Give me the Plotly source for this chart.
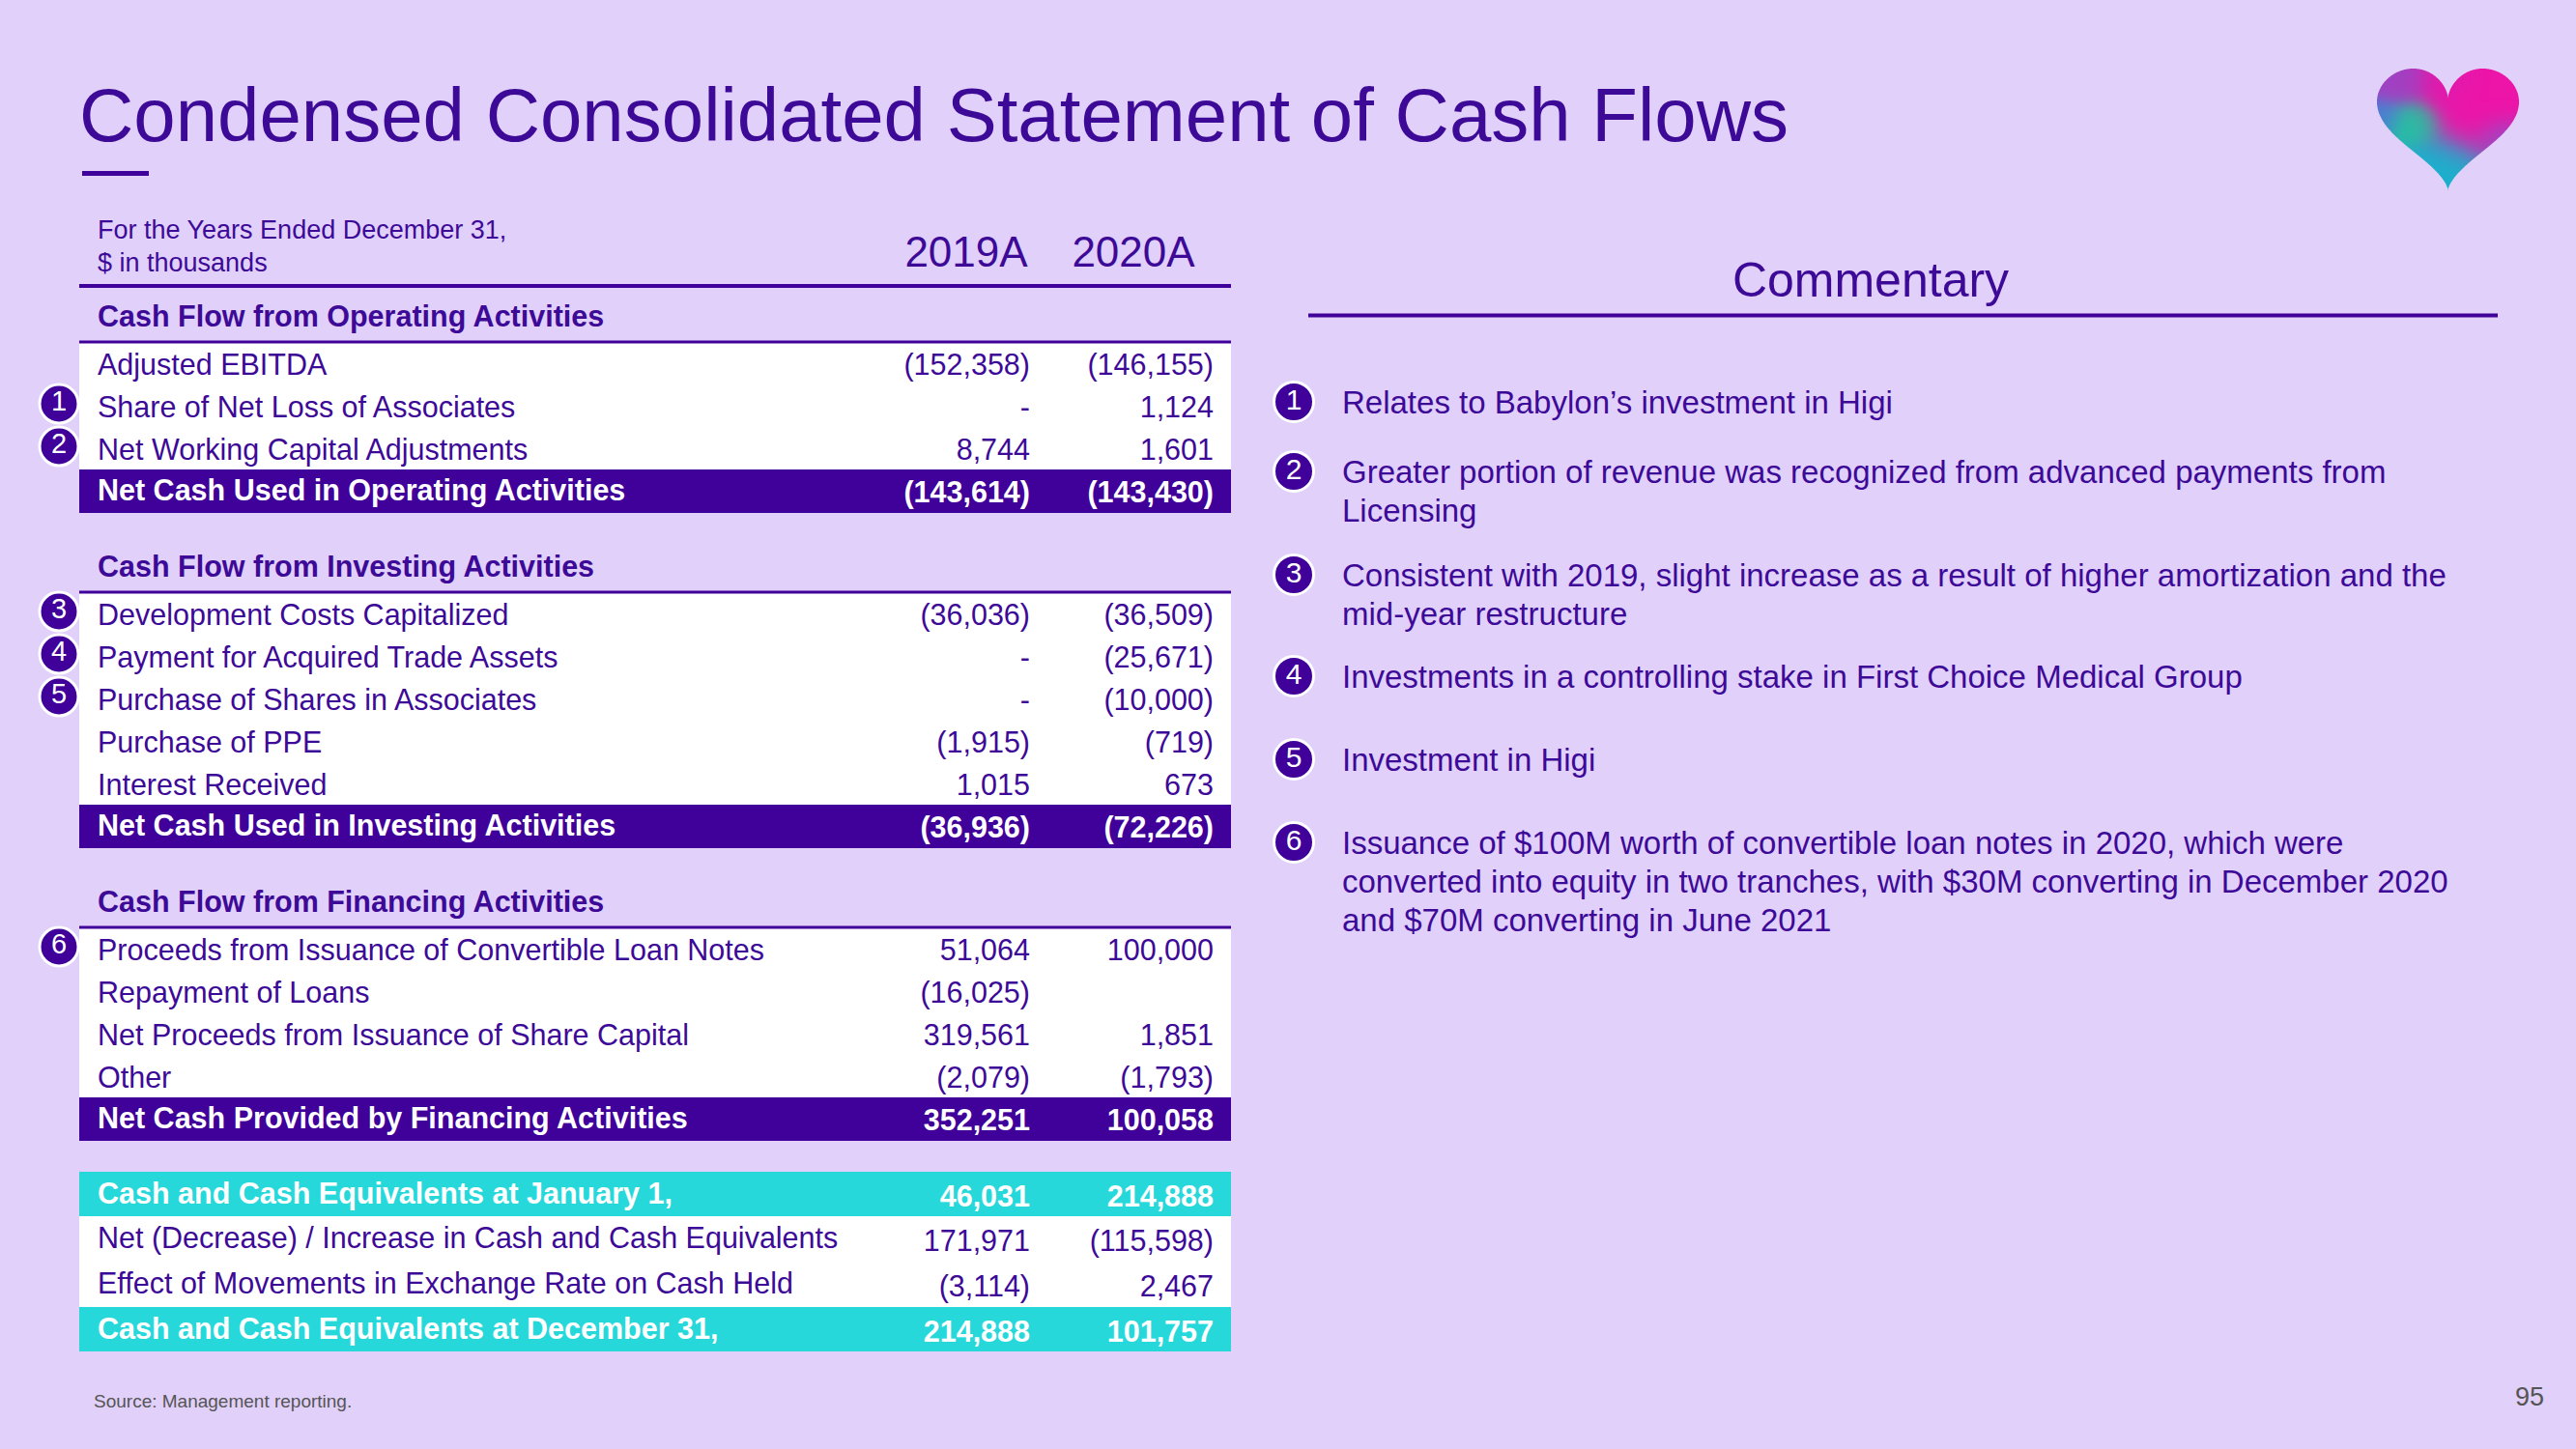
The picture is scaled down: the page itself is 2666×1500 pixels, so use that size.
import base64
import struct
import zlib

import numpy as np
import plotly.graph_objects as go

# ---------------------------------------------------------------- data
title_text = "Condensed Consolidated Statement of Cash Flows"
header_lines = ["For the Years Ended December 31,", "$ in thousands"]
year_labels = ["2019A", "2020A"]

row_labels = [
    "Cash Flow from Operating Activities",
    "Adjusted EBITDA",
    "Share of Net Loss of Associates",
    "Net Working Capital Adjustments",
    "Net Cash Used in Operating Activities",
    "Cash Flow from Investing Activities",
    "Development Costs Capitalized",
    "Payment for Acquired Trade Assets",
    "Purchase of Shares in Associates",
    "Purchase of PPE",
    "Interest Received",
    "Net Cash Used in Investing Activities",
    "Cash Flow from Financing Activities",
    "Proceeds from Issuance of Convertible Loan Notes",
    "Repayment of Loans",
    "Net Proceeds from Issuance of Share Capital",
    "Other",
    "Net Cash Provided by Financing Activities",
    "Cash and Cash Equivalents at January 1,",
    "Net (Decrease) / Increase in Cash and Cash Equivalents",
    "Effect of Movements in Exchange Rate on Cash Held",
    "Cash and Cash Equivalents at December 31,",
]
row_kinds = [
    "section", "item", "item", "item", "total",
    "section", "item", "item", "item", "item", "item", "total",
    "section", "item", "item", "item", "item", "total",
    "cash", "cashitem", "cashitem", "cash",
]
values_2019 = [None, -152358, 0, 8744, -143614,
               None, -36036, 0, 0, -1915, 1015, -36936,
               None, 51064, -16025, 319561, -2079, 352251,
               46031, 171971, -3114, 214888]
values_2020 = [None, -146155, 1124, 1601, -143430,
               None, -36509, -25671, -10000, -719, 673, -72226,
               None, 100000, None, 1851, -1793, 100058,
               214888, -115598, 2467, 101757]
row_notes = [None, None, 1, 2, None,
             None, 3, 4, 5, None, None, None,
             None, 6, None, None, None, None,
             None, None, None, None]

commentary_title = "Commentary"
note_ids = [1, 2, 3, 4, 5, 6]
note_lines = [
    ["Relates to Babylon’s investment in Higi"],
    ["Greater portion of revenue was recognized from advanced payments from",
     "Licensing"],
    ["Consistent with 2019, slight increase as a result of higher amortization and the",
     "mid-year restructure"],
    ["Investments in a controlling stake in First Choice Medical Group"],
    ["Investment in Higi"],
    ["Issuance of $100M worth of convertible loan notes in 2020, which were",
     "converted into equity in two tranches, with $30M converting in December 2020",
     "and $70M converting in June 2021"],
]
source_text = "Source: Management reporting."
page_number = "95"

# ---------------------------------------------------------------- style
W, H = 2666, 1500
BG = "#E1D0FA"
PURPLE = "#40009A"
TEXT = "#3D0A98"
CYAN = "#27D8DB"
WHITE = "#FFFFFF"
GREY = "#555555"
FONT = "Liberation Sans, Arial, sans-serif"
BODY = 30.5
DY = 4  # vertical nudge for text baseline

TABLE_X0, TABLE_X1 = 82, 1274
LABEL_X = 101
COL_RIGHT = [1066, 1256]
YEAR_CENTER = [1000, 1173]
CIRCLE_X = 61
ROW_H = {"section": 56, "item": 44, "total": 45, "cash": 46, "cashitem": 47}
SECTION_GAP, CASH_GAP = 26, 32
TABLE_TOP = 298

NOTE_CIRCLE_X, NOTE_TEXT_X = 1339, 1389
NOTE_TOP, NOTE_LINE_H = 416, 40
NOTE_GAPS = [0, 32, 27, 25, 46, 46]
NOTE_FONT = 33


def fmt(v):
    if v is None:
        return ""
    if v == 0:
        return "-"
    if v < 0:
        return "({:,})".format(-v)
    return "{:,}".format(v)


# ---------------------------------------------------------------- row layout
row_top, row_bot = [], []
y = TABLE_TOP
for i, kind in enumerate(row_kinds):
    if kind == "section" and i > 0:
        y += SECTION_GAP
    if kind == "cash" and i > 0 and row_kinds[i - 1] == "total":
        y += CASH_GAP
    row_top.append(y)
    y += ROW_H[kind]
    row_bot.append(y)
row_mid = [(a + b) / 2 for a, b in zip(row_top, row_bot)]

fig = go.Figure()

# cell fills as horizontal bars
fill_of = {"item": WHITE, "cashitem": WHITE, "total": PURPLE, "cash": CYAN}
for kind_group in ["item", "cashitem", "total", "cash"]:
    idx = [i for i, k in enumerate(row_kinds) if k == kind_group]
    fig.add_trace(go.Bar(
        orientation="h",
        y=[row_mid[i] for i in idx],
        x=[TABLE_X1 - TABLE_X0] * len(idx),
        base=[TABLE_X0] * len(idx),
        width=[row_bot[i] - row_top[i] + 0.6 for i in idx],
        marker=dict(color=fill_of[kind_group], line=dict(width=0)),
        hoverinfo="skip", showlegend=False,
    ))

shapes = []
# header line
shapes.append(dict(type="line", xref="x", yref="y", x0=TABLE_X0, x1=TABLE_X1,
                   y0=TABLE_TOP - 2, y1=TABLE_TOP - 2, line=dict(color=PURPLE, width=4)))
# section underlines
for i, k in enumerate(row_kinds):
    if k == "section":
        shapes.append(dict(type="line", xref="x", yref="y", x0=TABLE_X0, x1=TABLE_X1,
                           y0=row_bot[i], y1=row_bot[i], line=dict(color=PURPLE, width=3)))
# title underline
shapes.append(dict(type="rect", xref="x", yref="y", x0=85, x1=154, y0=177, y1=182,
                   fillcolor=PURPLE, line=dict(width=0)))
# commentary underline
shapes.append(dict(type="line", xref="x", yref="y", x0=1354, x1=2585, y0=326.5, y1=326.5,
                   line=dict(color=PURPLE, width=4)))


def text_trace(xs, ys, texts, color, size, pos, weight="normal"):
    fig.add_trace(go.Scatter(
        x=xs, y=ys, text=texts, mode="text", textposition=pos,
        textfont=dict(family=FONT, size=size, color=color, weight=weight),
        hoverinfo="skip", showlegend=False, cliponaxis=False,
    ))


# row labels and values, grouped by style
style_of = {
    "section": (TEXT, "bold"),
    "item": (TEXT, "normal"),
    "cashitem": (TEXT, "normal"),
    "total": (WHITE, "bold"),
    "cash": (WHITE, "bold"),
}
label_dy = {"section": 0, "item": 0, "cashitem": -2, "total": -2, "cash": -2}
value_dy = {"section": 0, "item": 0, "cashitem": 1, "total": 0, "cash": 1}
for k, (col, wt) in style_of.items():
    idx = [i for i, kk in enumerate(row_kinds) if kk == k]
    text_trace([LABEL_X] * len(idx), [row_mid[i] + label_dy[k] + DY for i in idx],
               [row_labels[i] for i in idx], col, BODY, "middle right", wt)
    if k == "section":
        continue
    for c, vals in enumerate([values_2019, values_2020]):
        text_trace([COL_RIGHT[c]] * len(idx), [row_mid[i] + value_dy[k] + DY for i in idx],
                   [fmt(vals[i]) for i in idx], col, BODY, "middle left", wt)

# note circles in the table
nidx = [i for i, n in enumerate(row_notes) if n is not None]
fig.add_trace(go.Scatter(
    x=[CIRCLE_X] * len(nidx), y=[row_mid[i] - 2 for i in nidx],
    text=[str(row_notes[i]) for i in nidx], mode="markers+text",
    textposition="middle center",
    marker=dict(size=40, color=PURPLE, line=dict(color=WHITE, width=3)),
    textfont=dict(family=FONT, size=29, color=WHITE),
    hoverinfo="skip", showlegend=False, cliponaxis=False,
))

# header texts
text_trace([LABEL_X] * 2, [240, 274], header_lines, TEXT, 27, "middle right")
text_trace(YEAR_CENTER, [265, 265], year_labels, TEXT, 44, "middle center")

# title
text_trace([82], [126], [title_text], TEXT, 78, "middle right")

# commentary
text_trace([1936], [294], [commentary_title], TEXT, 50, "middle center")
note_y = []
yy = NOTE_TOP
for j, lines in enumerate(note_lines):
    yy += NOTE_GAPS[j]
    note_y.append(yy)
    yy += NOTE_LINE_H * len(lines)
line_x, line_y, line_t = [], [], []
for j, lines in enumerate(note_lines):
    for l, t in enumerate(lines):
        line_x.append(NOTE_TEXT_X)
        line_y.append(note_y[j] + l * NOTE_LINE_H + DY)
        line_t.append(t)
text_trace(line_x, line_y, line_t, TEXT, NOTE_FONT, "middle right")
fig.add_trace(go.Scatter(
    x=[NOTE_CIRCLE_X] * len(note_ids), y=[v for v in note_y],
    text=[str(n) for n in note_ids], mode="markers+text",
    textposition="middle center",
    marker=dict(size=41, color=PURPLE, line=dict(color=WHITE, width=3)),
    textfont=dict(family=FONT, size=30, color=WHITE),
    hoverinfo="skip", showlegend=False, cliponaxis=False,
))

# footer
text_trace([97], [1452], [source_text], GREY, 19, "middle right")
text_trace([2633], [1448], [page_number], GREY, 27, "middle left")


# ---------------------------------------------------------------- heart logo
def heart_png(w, h, ss=3):
    # classic parametric heart outline
    t = np.linspace(0, 2 * np.pi, 720, endpoint=False)
    px = 16 * np.sin(t) ** 3
    py = 13 * np.cos(t) - 5 * np.cos(2 * t) - 2 * np.cos(3 * t) - np.cos(4 * t)
    px = (px - px.min()) / (px.max() - px.min())
    py = (py.max() - py) / (py.max() - py.min())
    ww, hh = w * ss, h * ss
    X, Y = np.meshgrid((np.arange(ww) + 0.5) / ww, (np.arange(hh) + 0.5) / hh)
    inside = np.zeros(X.shape, dtype=bool)
    n = len(px)
    for k in range(n):
        x1, y1 = px[k], py[k]
        x2, y2 = px[(k + 1) % n], py[(k + 1) % n]
        if y1 == y2:
            continue
        cond = (y1 > Y) != (y2 > Y)
        xint = x1 + (Y - y1) * (x2 - x1) / (y2 - y1)
        inside ^= cond & (X < xint)
    alpha = inside.astype(float).reshape(h, ss, w, ss).mean(axis=(1, 3))

    U, V = np.meshgrid((np.arange(w) + 0.5) / w, (np.arange(h) + 0.5) / h)
    blobs = [
        ((0.70, 0.32), 0.20, (238, 20, 168), 1.8),
        ((0.50, 0.15), 0.12, (215, 30, 175), 0.8),
        ((0.18, 0.14), 0.11, (160, 65, 195), 0.8),
        ((0.27, 0.45), 0.10, (32, 200, 160), 1.4),
        ((0.06, 0.40), 0.09, (75, 125, 215), 0.6),
        ((0.45, 0.82), 0.18, (25, 178, 205), 1.0),
        ((0.86, 0.55), 0.10, (110, 100, 210), 0.6),
    ]
    base = np.array([40, 165, 205], float)
    den = np.full((h, w), 1e-3)
    num = den[..., None] * base
    for (cx, cy), s, col, wt in blobs:
        g = wt * np.exp(-((U - cx) ** 2 + (V - cy) ** 2) / (2 * s * s))
        num = num + g[..., None] * np.array(col, float)
        den = den + g
    rgb = num / den[..., None]
    rgba = np.dstack([rgb, alpha * 255]).clip(0, 255).astype(np.uint8)
    raw = b"".join(b"\x00" + rgba[r].tobytes() for r in range(h))

    def chunk(tag, data):
        c = struct.pack(">I", len(data)) + tag + data
        return c + struct.pack(">I", zlib.crc32(tag + data) & 0xFFFFFFFF)

    png = (b"\x89PNG\r\n\x1a\n"
           + chunk(b"IHDR", struct.pack(">IIBBBBB", w, h, 8, 6, 0, 0, 0))
           + chunk(b"IDAT", zlib.compress(raw, 9))
           + chunk(b"IEND", b""))
    return "data:image/png;base64," + base64.b64encode(png).decode()


fig.add_layout_image(dict(
    source=heart_png(147, 126), xref="x", yref="y", x=2460, y=71,
    sizex=147, sizey=126, xanchor="left", yanchor="top",
    sizing="stretch", layer="above",
))

fig.update_layout(
    width=W, height=H,
    margin=dict(l=0, r=0, t=0, b=0),
    paper_bgcolor=BG, plot_bgcolor=BG,
    barmode="overlay", bargap=0,
    shapes=shapes,
    xaxis=dict(range=[0, W], visible=False, fixedrange=True),
    yaxis=dict(range=[H, 0], visible=False, fixedrange=True),
    showlegend=False,
)

fig.write_html(
    "out.html",
    config={"displayModeBar": False},
    post_script="document.body.style.margin='0';document.body.style.padding='0';"
                "document.body.style.background='" + BG + "';",
)
